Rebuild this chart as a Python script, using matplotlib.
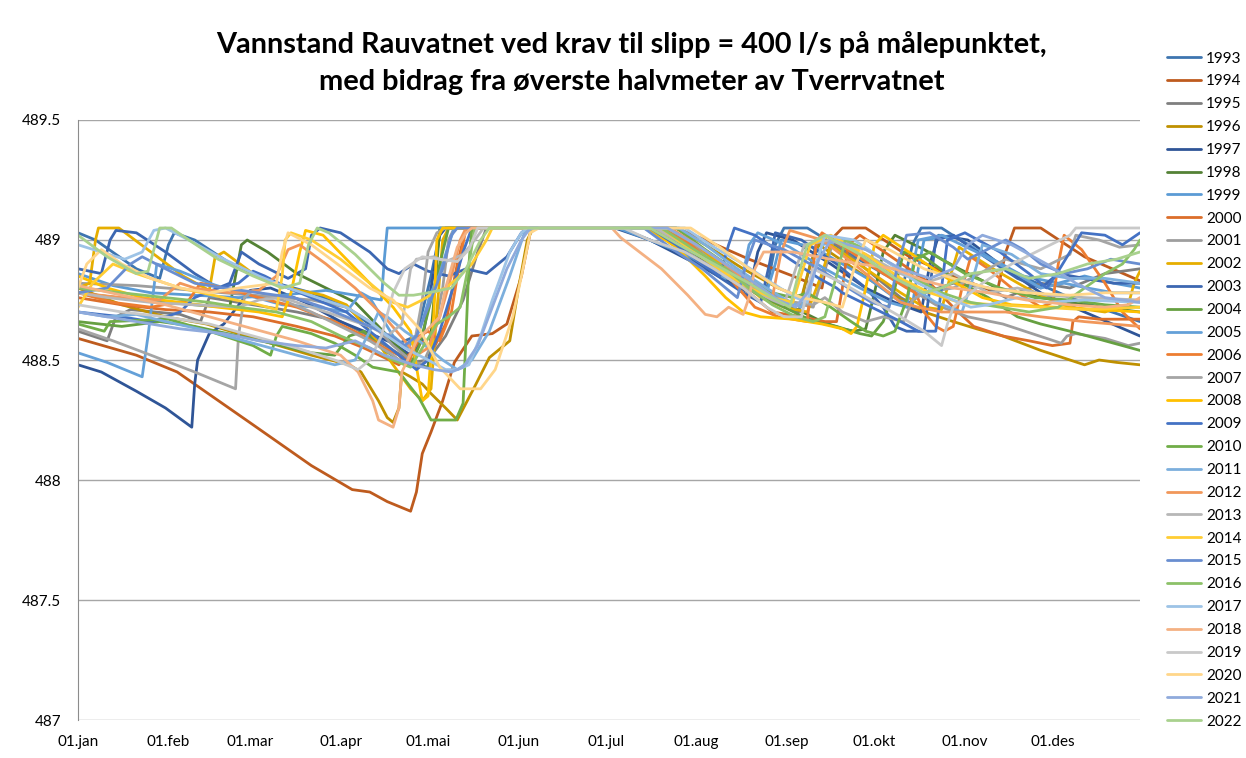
import matplotlib
matplotlib.use('Agg')
import matplotlib.pyplot as plt

plt.rcParams['font.family'] = ['Lato', 'DejaVu Sans']

years = list(range(1993, 2023))
colors = ['#3E75B0', '#BE5B1E', '#7F7F7F', '#BF9000', '#2F5597', '#548235',
          '#5B9BD5', '#DC6E2A', '#9E9E9E', '#E6AE00', '#3C67B1', '#66A041',
          '#64A0D8', '#ED7D31', '#A5A5A5', '#FFC000', '#4472C4', '#70AD47',
          '#7CAFDD', '#F1975A', '#B7B7B7', '#FFCD33', '#698ED0', '#8CC168',
          '#9DC3E6', '#F4B183', '#C9C9C9', '#FFD68A', '#8FAADC', '#A9D18E']

month_days = [0, 31, 59, 90, 120, 151, 181, 212, 243, 273, 304, 334]
month_labels = ['01.jan', '01.feb', '01.mar', '01.apr', '01.mai', '01.jun',
                '01.jul', '01.aug', '01.sep', '01.okt', '01.nov', '01.des']

# (dag i året, vannstand) lest av figuren
s1993 = [(0,489.03),(6,489.0),(20,488.88),(28,488.84),(31,488.98),(33,489.03),(40,489.0),(55,488.88),(68,488.82),(80,488.78),(92,488.72),(102,488.63),(110,488.57),(116,488.6),(121,488.85),(124,489.03),(126,489.05),(186,489.05),(196,489.0),(212,488.91),(228,488.83),(236,488.79),(239,488.98),(242,489.05),(250,489.05),(262,488.96),(276,488.86),(283,488.82),(286,488.98),(289,489.05),(296,489.05),(310,488.94),(325,488.84),(340,488.76),(352,488.71),(364,488.66)]
s1994 = [(0,488.59),(20,488.52),(34,488.45),(60,488.23),(80,488.06),(94,487.96),(100,487.95),(106,487.91),(112,487.88),(114,487.87),(116,487.95),(118,488.11),(121,488.20),(125,488.33),(129,488.49),(135,488.60),(142,488.61),(147,488.65),(152,488.85),(155,489.03),(157,489.05),(205,489.05),(215,489.0),(230,488.92),(245,488.85),(255,488.80),(258,489.0),(262,489.05),(270,489.05),(285,488.93),(300,488.85),(315,488.78),(318,488.95),(321,489.05),(330,489.05),(345,488.93),(364,488.83)]
s1995 = [(0,488.62),(10,488.58),(13,488.68),(18,488.71),(35,488.69),(42,488.66),(45,488.76),(60,488.73),(75,488.70),(90,488.66),(100,488.60),(108,488.54),(115,488.49),(120,488.50),(126,488.60),(132,488.75),(137,488.95),(140,489.05),(196,489.05),(206,488.98),(220,488.88),(232,488.80),(243,488.72),(247,488.70),(250,488.85),(253,488.98),(258,489.0),(270,488.88),(282,488.76),(285,488.74),(290,488.78),(300,488.82),(312,488.80),(318,488.76),(330,488.82),(340,488.80),(352,488.86),(364,488.88)]
s1996 = [(0,488.80),(15,488.73),(30,488.68),(44,488.65),(55,488.61),(66,488.57),(80,488.52),(93,488.48),(97,488.45),(100,488.39),(103,488.33),(106,488.26),(108,488.24),(110,488.30),(111,488.45),(114,488.43),(118,488.40),(121,488.36),(126,488.30),(130,488.25),(133,488.32),(136,488.39),(141,488.51),(148,488.58),(151,488.80),(154,489.00),(156,489.05),(205,489.05),(215,488.98),(228,488.88),(240,488.80),(248,488.76),(251,488.90),(254,488.98),(266,488.88),(278,488.78),(290,488.70),(300,488.66),(308,488.63),(317,488.60),(330,488.54),(340,488.50),(345,488.48),(350,488.50),(356,488.49),(364,488.48)]
s1997 = [(0,488.48),(8,488.45),(20,488.37),(30,488.30),(39,488.22),(40,488.40),(41,488.50),(45,488.61),(50,488.65),(59,488.79),(66,488.80),(78,488.74),(90,488.66),(100,488.61),(108,488.57),(114,488.52),(118,488.58),(121,488.80),(124,489.02),(126,489.05),(184,489.05),(196,489.0),(212,488.90),(224,488.82),(230,488.78),(233,488.95),(236,489.03),(245,489.0),(258,488.9),(270,488.8),(280,488.74),(289,488.70),(292,488.90),(295,489.02),(305,489.0),(318,488.88),(330,488.78),(345,488.70),(364,488.60)]
s1998 = [(0,488.78),(20,488.75),(40,488.73),(52,488.72),(54,488.85),(56,488.98),(58,489.0),(65,488.95),(75,488.86),(85,488.80),(95,488.74),(103,488.64),(110,488.55),(116,488.48),(120,488.47),(122,488.75),(124,489.05),(195,489.05),(206,488.98),(220,488.88),(232,488.80),(245,488.72),(255,488.66),(262,488.63),(266,488.62),(270,488.63),(273,488.78),(276,488.95),(280,489.02),(290,488.96),(302,488.88),(315,488.80),(330,488.76),(345,488.73),(364,488.70)]
s1999 = [(0,488.86),(12,488.81),(25,488.78),(40,488.77),(55,488.76),(70,488.77),(85,488.79),(95,488.77),(104,488.75),(105,488.92),(106,489.05),(185,489.05),(196,489.0),(210,488.93),(222,488.87),(232,488.80),(236,488.78),(239,488.90),(241,489.00),(252,488.97),(262,488.90),(272,488.83),(281,488.75),(286,488.73),(288,488.88),(290,489.0),(300,489.02),(312,488.93),(324,488.85),(336,488.82),(345,488.85),(355,488.82),(364,488.80)]
s2000 = [(0,488.76),(15,488.73),(30,488.71),(45,488.70),(60,488.68),(75,488.64),(88,488.60),(98,488.55),(105,488.51),(110,488.48),(114,488.53),(117,488.58),(122,488.55),(126,488.65),(130,488.90),(133,489.05),(198,489.05),(208,488.98),(220,488.88),(230,488.78),(238,488.70),(248,488.68),(256,488.66),(260,488.66),(262,488.80),(264,488.98),(268,489.02),(280,488.92),(292,488.82),(300,488.72),(307,488.64),(317,488.60),(326,488.58),(334,488.56),(340,488.57),(341,488.66),(343,488.68),(350,488.67),(364,488.67)]
s2001 = [(0,488.82),(20,488.81),(40,488.79),(60,488.77),(80,488.75),(92,488.72),(100,488.66),(108,488.56),(114,488.50),(118,488.48),(121,488.56),(125,488.80),(127,489.00),(129,489.05),(200,489.05),(212,488.97),(225,488.86),(236,488.78),(245,488.74),(252,488.72),(256,488.88),(259,489.0),(270,488.92),(282,488.82),(294,488.73),(305,488.68),(317,488.65),(327,488.61),(337,488.57),(339,488.60),(342,488.61),(352,488.59),(360,488.56),(364,488.57)]
s2002 = [(0,488.80),(4,488.82),(6,489.00),(7,489.05),(14,489.05),(25,488.95),(36,488.85),(45,488.79),(47,488.93),(50,488.95),(60,488.86),(72,488.80),(84,488.77),(92,488.73),(100,488.62),(108,488.48),(114,488.38),(118,488.33),(121,488.38),(123,488.70),(125,489.00),(127,489.05),(202,489.05),(212,488.98),(224,488.86),(234,488.76),(242,488.72),(250,488.70),(255,488.86),(258,488.98),(270,488.88),(282,488.78),(290,488.72),(296,488.71),(299,488.85),(302,488.97),(315,488.87),(328,488.78),(340,488.72),(352,488.70),(360,488.73),(362,488.82),(364,488.87)]
s2003 = [(0,488.88),(8,488.86),(11,489.00),(13,489.04),(20,489.03),(30,488.95),(40,488.86),(48,488.80),(52,488.82),(56,488.95),(62,488.90),(72,488.84),(78,488.88),(80,489.02),(83,489.05),(90,489.03),(100,488.95),(106,488.88),(110,488.86),(115,488.90),(120,488.87),(127,488.85),(133,488.88),(140,488.86),(147,488.93),(152,489.03),(154,489.05),(196,489.05),(206,488.97),(218,488.86),(228,488.78),(234,488.74),(237,488.90),(239,489.03),(248,489.0),(260,488.90),(270,488.80),(276,488.72),(280,488.64),(284,488.62),(290,488.62),(292,488.80),(294,489.0),(300,489.02),(312,488.92),(322,488.84),(330,488.80),(336,488.86),(345,488.84),(355,488.82),(364,488.82)]
s2004 = [(0,488.66),(15,488.64),(28,488.66),(40,488.64),(55,488.60),(70,488.56),(80,488.53),(88,488.52),(93,488.60),(98,488.62),(104,488.55),(110,488.50),(114,488.48),(117,488.56),(120,488.70),(124,488.90),(127,489.05),(200,489.05),(210,488.97),(222,488.87),(232,488.78),(242,488.72),(252,488.66),(260,488.64),(268,488.61),(272,488.60),(276,488.66),(280,488.80),(283,488.95),(290,488.93),(300,488.84),(312,488.76),(322,488.68),(330,488.65),(340,488.62),(352,488.58),(364,488.54)]
s2005 = [(0,488.53),(10,488.49),(22,488.43),(24,488.60),(26,488.80),(27,488.90),(35,488.87),(45,488.82),(58,488.77),(70,488.73),(82,488.72),(92,488.70),(97,488.78),(100,488.76),(108,488.60),(113,488.55),(117,488.62),(121,488.78),(124,488.86),(127,488.98),(129,489.05),(196,489.05),(204,488.98),(214,488.90),(222,488.84),(228,488.86),(230,488.98),(233,489.03),(244,488.97),(256,488.88),(268,488.80),(278,488.74),(284,488.72),(286,488.88),(288,489.00),(296,489.02),(308,488.95),(320,488.87),(330,488.80),(338,488.82),(346,488.80),(355,488.78),(364,488.78)]
s2006 = [(0,488.78),(12,488.74),(25,488.72),(38,488.75),(42,488.82),(50,488.80),(62,488.76),(75,488.72),(88,488.66),(98,488.60),(105,488.55),(110,488.52),(113,488.48),(117,488.60),(120,488.62),(124,488.58),(128,488.70),(131,488.92),(133,489.05),(200,489.05),(210,488.98),(222,488.86),(232,488.72),(240,488.68),(250,488.66),(251,488.80),(253,488.98),(255,489.03),(265,488.95),(276,488.86),(284,488.80),(287,488.78),(290,488.70),(294,488.64),(297,488.62),(300,488.64),(303,488.80),(306,488.93),(312,488.88),(322,488.78),(330,488.72),(334,488.74),(336,488.90),(338,489.02),(344,488.96),(352,488.82),(358,488.70),(364,488.63)]
s2007 = [(0,488.63),(12,488.58),(25,488.52),(40,488.45),(54,488.38),(55,488.60),(57,488.76),(60,488.79),(70,488.75),(80,488.70),(90,488.64),(100,488.58),(108,488.52),(112,488.48),(115,488.55),(118,488.75),(120,488.95),(123,489.03),(126,489.05),(194,489.05),(206,488.97),(218,488.88),(228,488.80),(240,488.75),(252,488.73),(256,488.76),(262,488.70),(270,488.66),(276,488.68),(283,488.66),(286,488.75),(290,488.78),(300,488.80),(312,488.88),(318,488.92),(330,488.88),(340,488.94),(342,489.02),(350,489.00),(357,488.97),(364,488.98)]
s2008 = [(0,488.85),(10,488.80),(22,488.76),(35,488.74),(48,488.72),(62,488.70),(70,488.68),(73,488.78),(76,488.95),(78,489.04),(84,489.02),(92,488.92),(100,488.82),(108,488.72),(114,488.62),(117,488.40),(118,488.33),(120,488.35),(122,488.70),(123,489.0),(125,489.05),(195,489.05),(205,488.97),(215,488.85),(222,488.76),(228,488.70),(234,488.68),(245,488.67),(255,488.65),(262,488.63),(265,488.61),(267,488.64),(270,488.80),(273,488.98),(276,489.02),(286,488.94),(298,488.84),(310,488.76),(320,488.73),(335,488.72),(350,488.71),(364,488.70)]
s2009 = [(0,488.70),(15,488.68),(25,488.66),(35,488.70),(40,488.76),(48,488.80),(55,488.82),(60,488.87),(64,488.85),(72,488.80),(82,488.75),(92,488.70),(100,488.62),(106,488.56),(112,488.50),(116,488.46),(120,488.50),(124,488.62),(128,488.78),(132,488.95),(135,489.05),(196,489.05),(205,488.98),(214,488.90),(220,488.85),(223,488.98),(225,489.05),(232,489.02),(244,488.92),(254,488.84),(260,488.80),(262,488.78),(272,488.72),(282,488.66),(288,488.62),(294,488.62),(296,488.80),(298,489.0),(304,489.03),(316,488.95),(326,488.86),(332,488.80),(335,488.85),(340,488.95),(344,489.03),(352,489.02),(358,488.98),(364,489.03)]
s2010 = [(0,488.65),(9,488.62),(11,488.66),(31,488.67),(45,488.62),(60,488.56),(66,488.52),(68,488.60),(70,488.64),(80,488.61),(88,488.57),(95,488.52),(101,488.47),(110,488.45),(117,488.34),(121,488.25),(129.5,488.25),(132,488.32),(133,488.60),(134,488.90),(135,489.05),(205,489.05),(215,488.96),(228,488.85),(238,488.78),(245,488.76),(250,488.78),(258,488.72),(265,488.66),(270,488.62),(276,488.60),(280,488.62),(284,488.75),(287,488.92),(292,488.95),(304,488.86),(316,488.80),(328,488.76),(340,488.75),(352,488.73),(364,488.72)]
s2011 = [(0,488.70),(10,488.68),(20,488.69),(30,488.66),(45,488.62),(60,488.57),(75,488.52),(88,488.48),(95,488.50),(100,488.62),(103,488.70),(106,488.68),(112,488.62),(118,488.57),(125,488.50),(130,488.46),(135,488.50),(141,488.62),(148,488.85),(153,489.03),(156,489.05),(206,489.05),(215,488.98),(226,488.88),(236,488.80),(244,488.74),(248,488.72),(252,488.85),(255,488.98),(262,489.0),(272,488.92),(284,488.82),(294,488.74),(303,488.70),(307,488.85),(310,488.98),(320,488.94),(330,488.86),(340,488.84),(352,488.84),(364,488.82)]
s2012 = [(0,488.78),(15,488.76),(28,488.75),(35,488.82),(40,488.80),(52,488.78),(62,488.79),(68,488.85),(72,488.96),(76,488.98),(85,488.90),(95,488.80),(105,488.68),(112,488.58),(116,488.52),(120,488.55),(124,488.68),(128,488.85),(131,489.0),(133,489.05),(203,489.05),(212,488.98),(224,488.88),(232,488.80),(238,488.76),(241,488.95),(244,489.04),(255,489.0),(266,488.90),(276,488.80),(282,488.74),(288,488.72),(296,488.70),(306,488.70),(318,488.70),(330,488.68),(345,488.66),(364,488.64)]
s2013 = [(0,488.78),(10,488.76),(25,488.74),(40,488.73),(55,488.72),(62,488.75),(70,488.76),(80,488.72),(90,488.68),(100,488.64),(106,488.60),(111,488.65),(114,488.88),(116,488.92),(122,488.93),(126,488.91),(132,488.94),(136,489.0),(139,489.05),(198,489.05),(208,488.98),(220,488.88),(230,488.80),(238,488.75),(242,488.73),(246,488.88),(249,488.98),(258,489.0),(270,488.94),(282,488.86),(290,488.82),(300,488.86),(306,488.82),(312,488.78),(322,488.80),(332,488.77),(345,488.76),(364,488.75)]
s2014 = [(0,488.72),(5,488.82),(12,488.90),(20,488.86),(35,488.80),(50,488.76),(62,488.73),(68,488.71),(70,488.85),(71,489.0),(73,489.03),(80,489.0),(90,488.92),(100,488.82),(108,488.74),(113,488.72),(118,488.75),(122,488.78),(126,488.80),(130,488.84),(135,488.90),(140,489.0),(142,489.05),(200,489.05),(210,488.96),(222,488.86),(230,488.80),(238,488.76),(245,488.74),(248,488.86),(251,488.98),(258,489.02),(270,488.94),(282,488.84),(292,488.78),(302,488.74),(315,488.73),(330,488.72),(345,488.71),(364,488.72)]
s2015 = [(0,488.78),(10,488.80),(18,488.90),(22,488.93),(30,488.88),(40,488.82),(50,488.80),(62,488.78),(74,488.76),(84,488.72),(92,488.68),(100,488.64),(107,488.60),(112,488.56),(116,488.60),(120,488.72),(125,488.88),(128,489.02),(130,489.05),(194,489.05),(204,488.96),(214,488.88),(222,488.80),(226,488.76),(229,488.90),(232,489.0),(242,488.96),(254,488.88),(264,488.80),(272,488.74),(278,488.72),(281,488.90),(284,489.02),(292,489.03),(300,488.97),(305,488.92),(310,488.95),(318,489.0),(324,488.96),(330,488.90),(338,488.86),(346,488.88),(354,488.92),(364,488.90)]
s2016 = [(0,488.80),(15,488.78),(30,488.76),(45,488.74),(55,488.72),(68,488.70),(80,488.66),(90,488.60),(100,488.55),(108,488.50),(114,488.47),(118,488.55),(123,488.65),(127,488.68),(131,488.72),(134,488.90),(136,489.05),(200,489.05),(210,488.97),(222,488.88),(230,488.80),(238,488.73),(246,488.68),(252,488.66),(256,488.68),(260,488.85),(263,489.0),(272,488.95),(284,488.86),(296,488.78),(306,488.74),(316,488.72),(326,488.70),(336,488.72),(345,488.80),(352,488.86),(358,488.90),(362,488.96),(364,489.00)]
s2017 = [(0,488.98),(8,488.95),(16,488.92),(22,488.95),(26,489.04),(30,489.05),(38,489.0),(50,488.92),(62,488.85),(72,488.80),(82,488.76),(92,488.72),(100,488.66),(106,488.60),(112,488.55),(120,488.50),(126,488.46),(130,488.46),(134,488.48),(138,488.60),(142,488.75),(148,488.95),(152,489.03),(154,489.05),(208,489.05),(218,488.97),(228,488.90),(238,488.82),(246,488.76),(250,488.74),(253,488.90),(256,489.02),(266,489.0),(276,488.92),(288,488.82),(298,488.76),(306,488.72),(312,488.73),(322,488.76),(332,488.74),(345,488.75),(364,488.74)]
s2018 = [(0,488.81),(15,488.77),(30,488.73),(45,488.68),(60,488.63),(75,488.58),(90,488.52),(96,488.45),(101,488.33),(103,488.25),(108,488.22),(110,488.30),(111,488.45),(113,488.50),(116,488.58),(120,488.63),(124,488.68),(126,488.80),(130,488.97),(133,489.03),(135,489.05),(183,489.05),(186,489.01),(200,488.88),(209,488.77),(215,488.69),(219,488.68),(221,488.70),(223,488.72),(228,488.69),(230,488.76),(232,488.88),(235,488.95),(245,488.95),(258,488.92),(268,488.90),(280,488.88),(290,488.83),(300,488.80),(312,488.78),(325,488.75),(340,488.73),(352,488.72),(360,488.73),(364,488.76)]
s2019 = [(0,488.73),(15,488.70),(30,488.68),(45,488.65),(60,488.60),(75,488.55),(88,488.50),(96,488.46),(100,488.50),(104,488.60),(108,488.78),(112,488.88),(118,488.93),(124,488.92),(130,488.91),(134,488.96),(137,489.05),(187,489.05),(196,489.0),(208,488.95),(218,488.88),(228,488.80),(236,488.72),(242,488.68),(248,488.68),(250,488.80),(252,488.88),(262,488.82),(272,488.75),(282,488.68),(290,488.62),(296,488.56),(298,488.65),(300,488.72),(310,488.82),(320,488.90),(330,488.96),(340,489.02),(342,489.05),(352,489.05),(364,489.05)]
s2020 = [(0,488.80),(3,488.90),(8,488.96),(15,488.90),(25,488.84),(35,488.80),(45,488.78),(55,488.80),(68,488.82),(70,488.95),(72,489.03),(80,488.98),(90,488.89),(100,488.80),(108,488.75),(117,488.63),(124,488.47),(131,488.38),(138,488.38),(143,488.46),(149,488.68),(152,488.85),(155,489.03),(158,489.05),(210,489.05),(220,488.97),(230,488.88),(240,488.80),(248,488.76),(256,488.74),(262,488.72),(266,488.88),(270,489.0),(278,488.96),(290,488.88),(300,488.84),(312,488.80),(325,488.78),(340,488.77),(352,488.78),(364,488.78)]
s2021 = [(0,488.70),(10,488.68),(20,488.66),(35,488.63),(50,488.61),(62,488.58),(75,488.56),(85,488.55),(95,488.58),(105,488.52),(115,488.48),(122,488.46),(128,488.45),(132,488.47),(137,488.56),(142,488.72),(147,488.88),(152,489.0),(155,489.05),(202,489.05),(212,488.98),(222,488.90),(232,488.82),(240,488.75),(246,488.72),(250,488.78),(254,488.92),(258,489.0),(270,488.96),(282,488.88),(292,488.84),(300,488.88),(305,488.98),(310,489.02),(320,488.98),(332,488.90),(342,488.82),(352,488.76),(364,488.74)]
s2022 = [(0,489.02),(10,488.93),(20,488.86),(24,488.87),(26,488.96),(28,489.05),(32,489.05),(38,489.0),(48,488.92),(60,488.85),(70,488.80),(76,488.82),(79,488.98),(82,489.05),(86,489.03),(95,488.94),(105,488.82),(110,488.77),(115,488.77),(120,488.78),(128,488.80),(133,488.88),(138,489.0),(141,489.05),(196,489.05),(206,488.98),(218,488.90),(230,488.82),(238,488.76),(244,488.72),(247,488.86),(250,488.98),(256,489.02),(268,488.94),(280,488.84),(290,488.78),(296,488.80),(306,488.86),(318,488.88),(326,488.84),(336,488.86),(346,488.90),(356,488.92),(364,488.95)]

series = [s1993, s1994, s1995, s1996, s1997, s1998, s1999, s2000, s2001, s2002,
          s2003, s2004, s2005, s2006, s2007, s2008, s2009, s2010, s2011, s2012,
          s2013, s2014, s2015, s2016, s2017, s2018, s2019, s2020, s2021, s2022]

fig = plt.figure(figsize=(12.46, 7.58), dpi=100)
ax = fig.add_axes([0.0626, 0.0501, 0.8523, 0.7916])

for year, pts, col in zip(years, series, colors):
    days = [p[0] for p in pts]
    levels = [p[1] for p in pts]
    ax.plot(days, levels, color=col, lw=2.0, label=str(year),
            solid_joinstyle='round', solid_capstyle='round')

ax.set_xlim(0, 364)
ax.set_ylim(487, 489.5)
ax.set_yticks([487, 487.5, 488, 488.5, 489, 489.5])
ax.set_yticklabels(['487', '487.5', '488', '488.5', '489', '489.5'])
ax.set_xticks(month_days)
ax.set_xticklabels(month_labels)
ax.tick_params(axis='both', length=0, labelsize=11, colors='#000000')
ax.tick_params(axis='y', pad=12)
ax.tick_params(axis='x', pad=11)
ax.yaxis.grid(True, color='#A6A6A6', lw=1.0)
ax.set_axisbelow(True)
for side in ['top', 'right', 'bottom']:
    ax.spines[side].set_visible(False)
ax.spines['left'].set_color('#8C8C8C')

fig.text(0.507, 0.941, 'Vannstand Rauvatnet ved krav til slipp = 400 l/s på målepunktet,',
         ha='center', va='center', fontsize=20.8, fontweight='bold')
fig.text(0.507, 0.892, 'med bidrag fra øverste halvmeter av Tverrvatnet',
         ha='center', va='center', fontsize=20.8, fontweight='bold')

fig.legend(loc='upper left', bbox_to_anchor=(0.9366, 0.932), frameon=False,
           fontsize=11, handlelength=2.2, handletextpad=0.35, labelspacing=0.58,
           borderpad=0, borderaxespad=0)

fig.savefig('out.png', dpi=100)
